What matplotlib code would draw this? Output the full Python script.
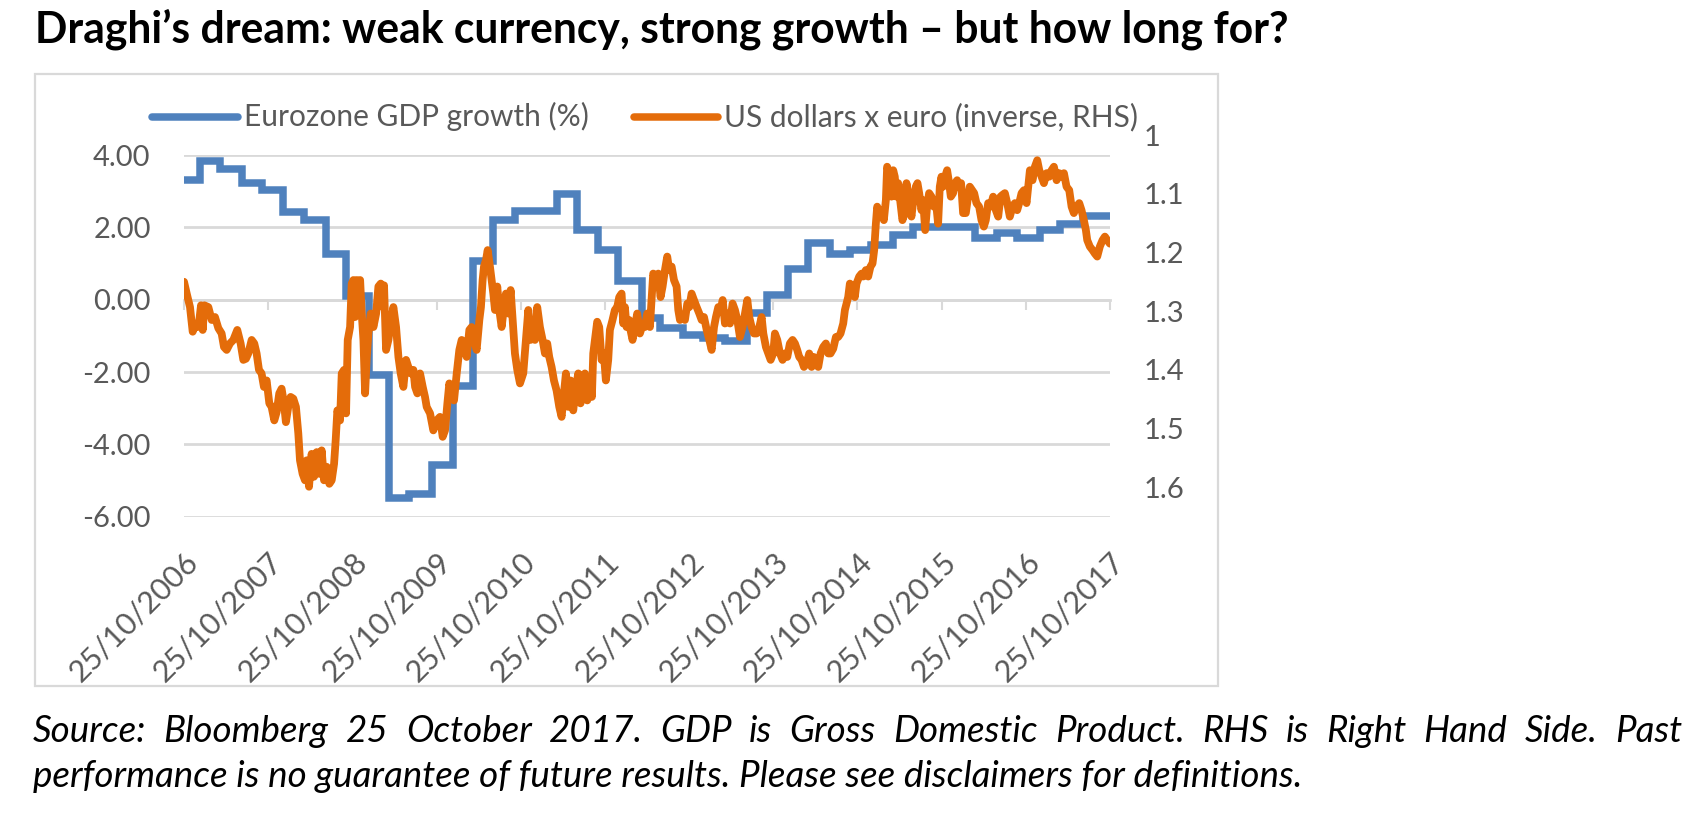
import datetime as dt
import matplotlib
matplotlib.use('Agg')
import matplotlib.pyplot as plt
from matplotlib.lines import Line2D
from matplotlib.patches import Rectangle

plt.rcParams['font.family'] = ['Lato', 'DejaVu Sans']

# ---- data ----
title = "Draghi\u2019s dream: weak currency, strong growth \u2013 but how long for?"
caption_1 = ("Source: Bloomberg 25 October 2017. GDP is Gross Domestic Product. "
             "RHS is Right Hand Side. Past")
caption_2 = ("performance is no guarantee of future results. "
             "Please see disclaimers for definitions.")
series_names = ["Eurozone GDP growth (%)", "US dollars x euro (inverse, RHS)"]

tick_years = list(range(2006, 2018))
left_ticks = [-6, -4, -2, 0, 2, 4]
right_ticks = [1.0, 1.1, 1.2, 1.3, 1.4, 1.5, 1.6]

# Eurozone GDP growth, yoy %, step starts as decimal years
gdp_start = [2006.814, 2007.004, 2007.242, 2007.499, 2007.736, 2007.994, 2008.239,
             2008.497, 2008.738, 2009.011, 2009.253, 2009.490, 2009.756, 2010.005,
             2010.243, 2010.488, 2010.745, 2011.240, 2011.478, 2011.735, 2011.973,
             2012.250, 2012.467, 2012.744, 2012.982, 2013.239, 2013.497, 2013.734,
             2013.992, 2014.229, 2014.486, 2014.724, 2014.981, 2015.239, 2015.476,
             2016.209, 2016.466, 2016.703, 2016.981, 2017.218, 2017.495, 2017.812]
gdp_value = [3.32, 3.83, 3.62, 3.23, 3.04, 2.42, 2.21, 1.25, 0.11, -2.08, -5.49,
             -5.37, -4.57, -2.40, 1.06, 2.21, 2.44, 2.91, 1.94, 1.38, 0.53, -0.51,
             -0.78, -0.97, -1.05, -1.15, -0.37, 0.14, 0.85, 1.57, 1.25, 1.38, 1.52,
             1.80, 2.01, 1.71, 1.85, 1.71, 1.94, 2.08, 2.31, 2.31]

# EUR/USD (plotted on an inverted right-hand axis)
fx_year = [
    2006.814, 2006.846, 2006.885, 2006.917, 2006.945, 2006.972, 2006.996, 2007.016,
    2007.036, 2007.056, 2007.103, 2007.143, 2007.182, 2007.222, 2007.261, 2007.289,
    2007.321, 2007.360, 2007.400, 2007.447, 2007.487, 2007.519, 2007.550, 2007.578,
    2007.618, 2007.649, 2007.677, 2007.705, 2007.736, 2007.764, 2007.796, 2007.828,
    2007.855, 2007.887, 2007.915, 2007.946, 2007.974, 2008.002, 2008.025, 2008.053,
    2008.081, 2008.113, 2008.144, 2008.172, 2008.192, 2008.223, 2008.251, 2008.271,
    2008.299, 2008.330, 2008.358, 2008.390, 2008.421, 2008.449, 2008.477, 2008.509,
    2008.540, 2008.568, 2008.596, 2008.615, 2008.635, 2008.667, 2008.687, 2008.714,
    2008.738, 2008.758, 2008.786, 2008.805, 2008.825, 2008.845, 2008.865, 2008.885,
    2008.905, 2008.924, 2008.944, 2008.964, 2008.984, 2009.003, 2009.031, 2009.063,
    2009.095, 2009.122, 2009.150, 2009.174, 2009.189, 2009.213, 2009.241, 2009.261,
    2009.300, 2009.332, 2009.360, 2009.387, 2009.419, 2009.451, 2009.478, 2009.506,
    2009.538, 2009.558, 2009.585, 2009.617, 2009.649, 2009.676, 2009.696, 2009.736,
    2009.775, 2009.815, 2009.854, 2009.886, 2009.914, 2009.942, 2009.965, 2009.993,
    2010.021, 2010.053, 2010.084, 2010.112, 2010.140, 2010.171, 2010.203, 2010.231,
    2010.258, 2010.290, 2010.322, 2010.341, 2010.361, 2010.377, 2010.401, 2010.421,
    2010.448, 2010.468, 2010.488, 2010.508, 2010.535, 2010.559, 2010.587, 2010.615,
    2010.638, 2010.666, 2010.694, 2010.718, 2010.745, 2010.773, 2010.805, 2010.844,
    2010.876, 2010.904, 2010.931, 2010.955, 2010.983, 2011.010, 2011.042, 2011.074,
    2011.102, 2011.129, 2011.153, 2011.181, 2011.209, 2011.240, 2011.272, 2011.300,
    2011.327, 2011.351, 2011.379, 2011.407, 2011.438, 2011.470, 2011.498, 2011.525,
    2011.549, 2011.577, 2011.605, 2011.636, 2011.660, 2011.676, 2011.696, 2011.723,
    2011.747, 2011.775, 2011.802, 2011.826, 2011.854, 2011.874, 2011.905, 2011.933,
    2011.961, 2011.985, 2012.013, 2012.032, 2012.052, 2012.072, 2012.103, 2012.111,
    2012.143, 2012.170, 2012.198, 2012.230, 2012.261, 2012.289, 2012.317, 2012.349,
    2012.368, 2012.388, 2012.420, 2012.448, 2012.475, 2012.499, 2012.527, 2012.554,
    2012.578, 2012.606, 2012.634, 2012.665, 2012.685, 2012.705, 2012.737, 2012.764,
    2012.792, 2012.816, 2012.843, 2012.871, 2012.903, 2012.934, 2012.962, 2012.990,
    2013.022, 2013.053, 2013.081, 2013.109, 2013.132, 2013.160, 2013.188, 2013.212,
    2013.239, 2013.267, 2013.299, 2013.330, 2013.358, 2013.386, 2013.417, 2013.449,
    2013.477, 2013.505, 2013.528, 2013.556, 2013.584, 2013.615, 2013.647, 2013.675,
    2013.695, 2013.726, 2013.754, 2013.782, 2013.813, 2013.833, 2013.861, 2013.893,
    2013.924, 2013.952, 2013.980, 2014.011, 2014.043, 2014.071, 2014.098, 2014.122,
    2014.150, 2014.178, 2014.209, 2014.241, 2014.269, 2014.296, 2014.320, 2014.348,
    2014.376, 2014.407, 2014.439, 2014.467, 2014.494, 2014.526, 2014.558, 2014.585,
    2014.613, 2014.645, 2014.665, 2014.684, 2014.704, 2014.724, 2014.756, 2014.783,
    2014.803, 2014.835, 2014.863, 2014.882, 2014.914, 2014.942, 2014.969, 2014.993,
    2015.013, 2015.033, 2015.049, 2015.072, 2015.100, 2015.128, 2015.152, 2015.167,
    2015.191, 2015.219, 2015.239, 2015.258, 2015.278, 2015.298, 2015.326, 2015.349,
    2015.377, 2015.397, 2015.429, 2015.456, 2015.484, 2015.508, 2015.528, 2015.548,
    2015.575, 2015.595, 2015.619, 2015.642, 2015.666, 2015.694, 2015.722, 2015.745,
    2015.773, 2015.793, 2015.813, 2015.832, 2015.856, 2015.880, 2015.904, 2015.924,
    2015.951, 2015.975, 2015.999, 2016.023, 2016.046, 2016.070, 2016.102, 2016.129,
    2016.149, 2016.177, 2016.201, 2016.228, 2016.260, 2016.288, 2016.316, 2016.339,
    2016.367, 2016.395, 2016.426, 2016.458, 2016.486, 2016.513, 2016.537, 2016.565,
    2016.593, 2016.624, 2016.656, 2016.684, 2016.711, 2016.735, 2016.763, 2016.791,
    2016.822, 2016.842, 2016.862, 2016.893, 2016.921, 2016.949, 2016.973, 2017.000,
    2017.028, 2017.060, 2017.092, 2017.119, 2017.147, 2017.179, 2017.210, 2017.238,
    2017.266, 2017.297, 2017.329, 2017.357, 2017.384, 2017.416, 2017.448, 2017.475,
    2017.503, 2017.527, 2017.543, 2017.574, 2017.606, 2017.634, 2017.662, 2017.693,
    2017.725, 2017.753, 2017.781, 2017.812]
fx_value = [
    1.250, 1.270, 1.293, 1.335, 1.324, 1.327, 1.315, 1.290,
    1.332, 1.290, 1.293, 1.315, 1.310, 1.329, 1.338, 1.361,
    1.366, 1.355, 1.349, 1.332, 1.355, 1.383, 1.381, 1.372,
    1.349, 1.355, 1.372, 1.400, 1.406, 1.429, 1.418, 1.457,
    1.463, 1.486, 1.472, 1.440, 1.432, 1.457, 1.489, 1.463,
    1.446, 1.449, 1.463, 1.508, 1.554, 1.577, 1.588, 1.554,
    1.599, 1.543, 1.582, 1.540, 1.577, 1.537, 1.588, 1.565,
    1.594, 1.588, 1.560, 1.520, 1.469, 1.486, 1.406, 1.400,
    1.474, 1.349, 1.327, 1.253, 1.247, 1.310, 1.247, 1.253,
    1.247, 1.304, 1.349, 1.440, 1.378, 1.338, 1.304, 1.327,
    1.304, 1.258, 1.253, 1.293, 1.256, 1.366, 1.349, 1.327,
    1.293, 1.327, 1.378, 1.406, 1.429, 1.383, 1.395, 1.406,
    1.400, 1.429, 1.440, 1.406, 1.429, 1.446, 1.463, 1.474,
    1.503, 1.486, 1.480, 1.514, 1.503, 1.457, 1.423, 1.440,
    1.452, 1.406, 1.366, 1.349, 1.355, 1.378, 1.332, 1.327,
    1.349, 1.366, 1.315, 1.293, 1.247, 1.224, 1.213, 1.196,
    1.224, 1.247, 1.270, 1.298, 1.258, 1.298, 1.327, 1.293,
    1.270, 1.304, 1.264, 1.315, 1.372, 1.400, 1.423, 1.406,
    1.349, 1.298, 1.349, 1.327, 1.349, 1.293, 1.327, 1.349,
    1.372, 1.355, 1.378, 1.395, 1.418, 1.435, 1.463, 1.480,
    1.440, 1.406, 1.463, 1.418, 1.469, 1.429, 1.406, 1.457,
    1.440, 1.406, 1.452, 1.418, 1.446, 1.372, 1.349, 1.318,
    1.327, 1.383, 1.372, 1.418, 1.383, 1.332, 1.315, 1.298,
    1.293, 1.276, 1.270, 1.321, 1.293, 1.327, 1.315, 1.327,
    1.349, 1.327, 1.304, 1.338, 1.324, 1.327, 1.304, 1.327,
    1.281, 1.236, 1.247, 1.236, 1.276, 1.258, 1.230, 1.207,
    1.230, 1.224, 1.247, 1.258, 1.298, 1.315, 1.310, 1.315,
    1.287, 1.293, 1.270, 1.281, 1.293, 1.304, 1.315, 1.310,
    1.332, 1.349, 1.366, 1.327, 1.310, 1.293, 1.298, 1.281,
    1.321, 1.304, 1.321, 1.287, 1.298, 1.315, 1.344, 1.327,
    1.304, 1.281, 1.310, 1.327, 1.338, 1.338, 1.327, 1.310,
    1.338, 1.361, 1.372, 1.383, 1.372, 1.338, 1.349, 1.372,
    1.383, 1.372, 1.378, 1.355, 1.349, 1.355, 1.366, 1.378,
    1.383, 1.395, 1.389, 1.372, 1.395, 1.378, 1.389, 1.395,
    1.372, 1.361, 1.355, 1.372, 1.372, 1.364, 1.344, 1.344,
    1.338, 1.321, 1.298, 1.287, 1.276, 1.253, 1.258, 1.276,
    1.253, 1.241, 1.236, 1.241, 1.230, 1.241, 1.224, 1.219,
    1.196, 1.151, 1.122, 1.133, 1.128, 1.145, 1.111, 1.054,
    1.065, 1.105, 1.060, 1.071, 1.105, 1.082, 1.116, 1.145,
    1.133, 1.082, 1.111, 1.139, 1.105, 1.088, 1.082, 1.099,
    1.128, 1.111, 1.162, 1.122, 1.099, 1.105, 1.122, 1.111,
    1.151, 1.088, 1.071, 1.088, 1.071, 1.060, 1.082, 1.105,
    1.099, 1.082, 1.077, 1.088, 1.082, 1.133, 1.133, 1.105,
    1.088, 1.094, 1.099, 1.116, 1.122, 1.145, 1.156, 1.145,
    1.116, 1.122, 1.105, 1.128, 1.139, 1.105, 1.102, 1.099,
    1.116, 1.139, 1.122, 1.116, 1.128, 1.116, 1.099, 1.094,
    1.116, 1.088, 1.060, 1.077, 1.054, 1.043, 1.060, 1.071,
    1.082, 1.065, 1.071, 1.060, 1.054, 1.077, 1.065, 1.071,
    1.065, 1.088, 1.094, 1.122, 1.133, 1.122, 1.116, 1.128,
    1.145, 1.162, 1.179, 1.190, 1.196, 1.202, 1.207, 1.190,
    1.179, 1.173, 1.179, 1.185]

blue = '#4F81BD'
orange = '#E46C0A'
grid_c = '#D9D9D9'
text_c = '#595959'

W, H = 1707, 823


def to_date(y):
    # decimal year -> datetime
    y0 = int(y)
    a = dt.datetime(y0, 1, 1)
    b = dt.datetime(y0 + 1, 1, 1)
    return a + (b - a) * (y - y0)


def fx(px):
    return px / W


def fy(py):
    return 1 - py / H


gdp_dates = [to_date(v) for v in gdp_start]
fx_dates = [to_date(v) for v in fx_year]
tick_dates = [dt.datetime(y, 10, 25) for y in tick_years]

fig = plt.figure(figsize=(W / 100, H / 100), dpi=100)

# chart border
fig.patches.append(Rectangle((fx(35), fy(686)), fx(1218) - fx(35), fy(74) - fy(686),
                             transform=fig.transFigure, fill=False,
                             edgecolor=grid_c, linewidth=1.6))

# left axis (GDP)
ax = fig.add_axes([fx(184), fy(516.7), fx(1110) - fx(184), fy(155) - fy(516.7)])
ax.set_ylim(-6, 4)
ax.set_xlim(tick_dates[0], tick_dates[-1])
ax.set_yticks(left_ticks)
ax.set_yticklabels([f'{v:.2f}' for v in left_ticks])
for v in left_ticks:
    ax.axhline(v, color=grid_c, linewidth=2, zorder=0)
for s in ax.spines.values():
    s.set_visible(False)
ax.tick_params(axis='y', length=0, pad=24, labelsize=21, labelcolor=text_c)
ax.set_xticks(tick_dates)
ax.set_xticklabels([d.strftime('%d/%m/%Y') for d in tick_dates])
ax.tick_params(axis='x', length=0, pad=22, labelsize=22, labelcolor=text_c)
plt.setp(ax.get_xticklabels(), rotation=45, ha='right', va='top',
         rotation_mode='anchor')

# horizontal axis line with tick marks at zero
sec = ax.secondary_xaxis(0, transform=ax.transData)
sec.set_alignment('bottom')
sec.set_xticks(tick_dates)
sec.set_xticklabels([])
sec.spines['bottom'].set_color(grid_c)
sec.spines['bottom'].set_linewidth(2)
sec.tick_params(axis='x', direction='out', length=7, width=1.5, color=grid_c)

ax.plot(gdp_dates, gdp_value, drawstyle='steps-post', color=blue,
        linewidth=5.4, solid_joinstyle='miter', solid_capstyle='butt', zorder=3)

# right axis (EUR/USD, inverted)
ax2 = fig.add_axes([fx(184), fy(516.7), fx(1110) - fx(184), fy(135) - fy(516.7)],
                   sharex=ax)
ax2.patch.set_visible(False)
for s in ax2.spines.values():
    s.set_visible(False)
ax2.set_ylim(1.65, 1.0)
ax2.yaxis.tick_right()
ax2.set_yticks(right_ticks)
ax2.set_yticklabels(['1' if v == 1.0 else f'{v:.1f}' for v in right_ticks])
ax2.tick_params(axis='y', length=0, pad=24, labelsize=21, labelcolor=text_c)
ax2.tick_params(axis='x', bottom=False, labelbottom=False)
ax2.plot(fx_dates, fx_value, color=orange, linewidth=5.6,
         solid_joinstyle='round', solid_capstyle='round')

# legend
leg_y = 117
for (x0, x1, xt), c, name in zip([(152, 238, 244), (634, 718, 724)],
                                  [blue, orange], series_names):
    fig.add_artist(Line2D([fx(x0), fx(x1)], [fy(leg_y), fy(leg_y)], color=c,
                          linewidth=5.4, solid_capstyle='round',
                          transform=fig.transFigure))
    fig.text(fx(xt), fy(126), name, fontsize=21.5, color=text_c, va='baseline')

# title
fig.text(fx(35), fy(43), title, fontsize=30.7, fontweight='bold', color='black',
         va='baseline')

# caption, first line justified
r = fig.canvas.get_renderer()
words = caption_1.split()
parts = [fig.text(0, fy(742), w, fontsize=26.5, fontstyle='italic', va='baseline')
         for w in words]
widths = [p.get_window_extent(r).width for p in parts]
gap = (1682 - 33 - sum(widths)) / (len(words) - 1)
x = 33
for p, w in zip(parts, widths):
    p.set_x(fx(x))
    x += w + gap
fig.text(fx(33), fy(787), caption_2, fontsize=26.5, fontstyle='italic', va='baseline')

fig.savefig('out.png', dpi=100)
